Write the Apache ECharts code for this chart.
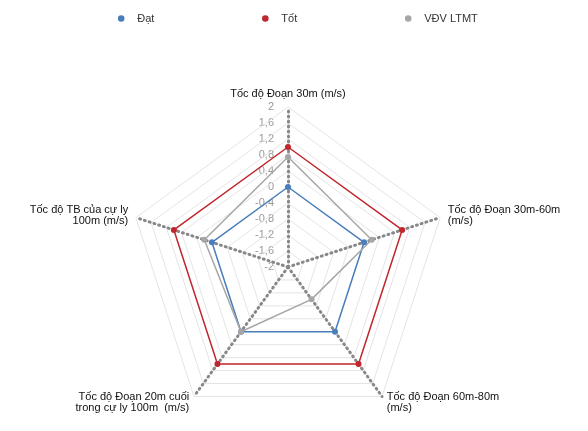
<!DOCTYPE html><html><head><meta charset="utf-8"><script src="https://cdn.jsdelivr.net/npm/echarts@6/dist/echarts.min.js"></script></head><body style="margin:0"><div id="c" style="width:588px;height:431px"></div><script>
// order listed clockwise from top: 30m, 30-60m, 60-80m, 20m cuối, TB
const indicators=['Tốc độ Đoạn 30m (m/s)','Tốc độ Đoạn 30m-60m\n(m/s)','Tốc độ Đoạn 60m-80m\n(m/s)','Tốc độ Đoạn 20m cuối\ntrong cự ly 100m  (m/s)','Tốc độ TB của cự ly\n100m (m/s)'];
const seriesNames=['Đạt','Tốt','VĐV LTMT'];
const dat=[0,0,0,0,0];
const tot=[1,1,1,1,1];
const vdv=[0.75,0.2,-1,0,0.2];
const tickLabels=['2','1,6','1,2','0,8','0,4','0','-0,4','-0,8','-1,2','-1,6','-2'];
const colors=['#4a7ebb','#c0262d','#a6a6a6'];
// ECharts radar runs counter-clockwise: reorder (keep first, reverse rest)
const ccw=a=>[a[0]].concat(a.slice(1).reverse());
const c=echarts.init(document.getElementById('c'));
c.setOption({
legend:{top:8,itemGap:100,icon:'path://M0,4 L8,4 M12,4 L20,4 M10,1 A3,3 0 1 1 9.99,1 Z',itemWidth:22,itemHeight:7,
textStyle:{fontFamily:'Liberation Sans',fontSize:11,color:'#333'},data:seriesNames},
radar:{center:[288,267],radius:160,startAngle:90,splitNumber:10,shape:'polygon',
indicator:ccw(indicators).map(n=>({name:n,min:-2,max:2})),
axisName:{color:'#111',fontFamily:'Liberation Sans',fontSize:11},
nameGap:8,
splitArea:{show:false},
splitLine:{lineStyle:{color:'#e4e4e4'}},
axisLine:{lineStyle:{color:'#888',width:3,type:[1,4]}},
axisLabel:{show:false},axisTick:{show:false}},
series:[{type:'radar',symbol:'circle',symbolSize:6,
data:[
{name:'Đạt',value:ccw(dat),itemStyle:{color:colors[0]},lineStyle:{color:colors[0],width:1.5}},
{name:'Tốt',value:ccw(tot),itemStyle:{color:colors[1]},lineStyle:{color:colors[1],width:1.5}},
{name:'VĐV LTMT',value:ccw(vdv),itemStyle:{color:colors[2]},lineStyle:{color:colors[2],width:1.5}}]}],
graphic:tickLabels.map((t,i)=>({type:'text',x:274,y:107+i*16,
style:{text:t,fill:'#999',font:'11px Liberation Sans',align:'right',verticalAlign:'middle'}}))
});
</script></body></html>
